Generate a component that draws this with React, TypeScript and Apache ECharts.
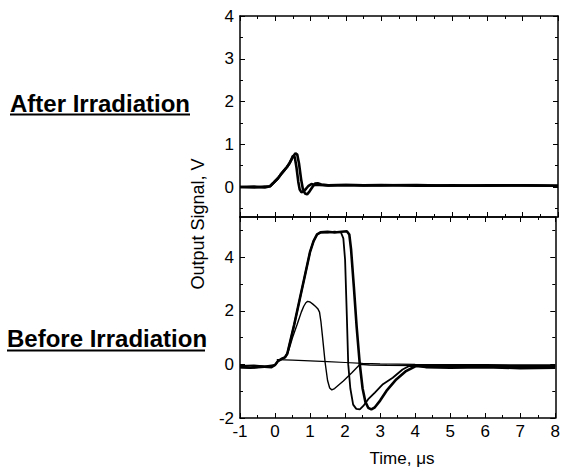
import React, { useEffect, useRef } from "react";
import * as echarts from "echarts";

// ---------- data ----------
const xTickLabels = [-1, 0, 1, 2, 3, 4, 5, 6, 7, 8];
const topMajor = [0, 1, 2, 3, 4];
const topMinor = [-0.5, 0.5, 1.5, 2.5, 3.5];
const botMajor = [-2, 0, 2, 4];
const botMinor = [-1, 1, 3, 5];

// After irradiation traces (top panel)
const after1T = [-1, -0.6, -0.3, -0.15, -0.05, 0.07, 0.15, 0.25, 0.33, 0.4, 0.46, 0.5, 0.55, 0.6, 0.65, 0.69, 0.74, 0.8, 0.87, 0.94, 1.02, 1.12, 1.25, 1.5, 2, 2.5, 3, 4, 5, 6, 7, 8];
const after1V = [0, -0.01, 0.01, 0.02, 0.1, 0.2, 0.29, 0.39, 0.47, 0.55, 0.65, 0.73, 0.7, 0.45, 0.12, -0.06, -0.12, -0.1, -0.04, 0.03, 0.07, 0.05, 0.05, 0.04, 0.05, 0.04, 0.05, 0.03, 0.04, 0.03, 0.04, 0.03];
const after2T = [-1, -0.6, -0.3, -0.15, -0.05, 0.07, 0.15, 0.25, 0.33, 0.4, 0.49, 0.57, 0.62, 0.67, 0.73, 0.78, 0.84, 0.9, 0.97, 1.05, 1.12, 1.2, 1.3, 1.5, 2, 2.5, 3, 4, 5, 6, 7, 8];
const after2V = [0, 0.01, -0.01, 0.02, 0.1, 0.2, 0.29, 0.39, 0.47, 0.56, 0.7, 0.79, 0.76, 0.55, 0.18, -0.05, -0.15, -0.17, -0.1, 0.0, 0.08, 0.09, 0.06, 0.04, 0.05, 0.04, 0.04, 0.05, 0.03, 0.04, 0.04, 0.03];

// Before irradiation traces (bottom panel)
const beforeAT = [-1, -0.7, -0.4, -0.1, 0, 0.08, 0.18, 0.28, 0.35, 0.45, 0.55, 0.7, 0.85, 1.0, 1.1, 1.2, 1.3, 1.5, 1.7, 1.9, 2.05, 2.12, 2.17, 2.25, 2.33, 2.42, 2.5, 2.58, 2.66, 2.75, 2.85, 3.0, 3.18, 3.46, 3.74, 4.02, 4.3, 5, 6, 7, 8];
const beforeAV = [-0.1, -0.12, -0.08, -0.1, -0.02, 0.12, 0.2, 0.26, 0.4, 0.95, 1.5, 2.4, 3.3, 4.2, 4.6, 4.85, 4.93, 4.95, 4.92, 4.95, 4.97, 4.85, 4.3, 2.9, 1.4, 0.0, -0.9, -1.4, -1.62, -1.68, -1.6, -1.35, -0.99, -0.56, -0.25, -0.06, -0.1, -0.12, -0.1, -0.14, -0.12];
const beforeBT = [-1, -0.6, -0.3, 0, 0.08, 0.18, 0.28, 0.35, 0.45, 0.55, 0.7, 0.85, 1.0, 1.1, 1.2, 1.3, 1.5, 1.7, 1.88, 1.95, 2.0, 2.05, 2.09, 2.15, 2.23, 2.32, 2.42, 2.52, 2.66, 2.85, 3.08, 3.36, 3.64, 3.83, 4.1, 5, 6, 7, 8];
const beforeBV = [-0.06, -0.04, -0.07, -0.02, 0.12, 0.2, 0.26, 0.4, 0.95, 1.5, 2.4, 3.3, 4.2, 4.6, 4.85, 4.93, 4.92, 4.95, 4.93, 4.7, 3.9, 1.8, 0.0, -0.9, -1.5, -1.66, -1.68, -1.55, -1.3, -1.05, -0.74, -0.5, -0.19, -0.06, -0.05, -0.08, -0.06, -0.08, -0.07];
const beforeCT = [-1, -0.6, -0.3, 0, 0.1, 0.2, 0.3, 0.4, 0.5, 0.63, 0.75, 0.82, 0.88, 0.93, 1.0, 1.08, 1.15, 1.22, 1.27, 1.31, 1.35, 1.43, 1.5, 1.56, 1.62, 1.7, 1.95, 2.2, 2.42, 2.7, 3.2, 4, 5, 6, 7, 8];
const beforeCV = [-0.12, -0.14, -0.11, -0.04, 0.15, 0.2, 0.28, 0.56, 1.0, 1.49, 1.95, 2.17, 2.3, 2.35, 2.33, 2.25, 2.17, 2.08, 1.95, 1.6, 1.1, 0.07, -0.6, -0.88, -0.95, -0.9, -0.62, -0.3, 0.0, -0.02, -0.03, -0.04, -0.05, -0.04, -0.05, -0.05];
const beforeDT = [0.05, 0.5, 1, 1.5, 2, 2.5, 3, 3.5, 4, 5, 6, 7, 8];
const beforeDV = [0.18, 0.16, 0.13, 0.1, 0.07, 0.04, 0.02, 0.01, 0.0, -0.01, -0.01, -0.02, -0.02];

const zip = (t: number[], v: number[]) => t.map((x, i) => [x, v[i]]);

const FONT = '"Liberation Sans", Arial, Helvetica, sans-serif';
const INK = "#000";

export default function App() {
  const ref = useRef<HTMLDivElement>(null);
  useEffect(() => {
    document.body.style.margin = "0";
    const chart = echarts.init(ref.current!, null, { renderer: "svg" });

    const gridLeft = 240;
    const gridRight = 5;

    const xBase = (gridIndex: number, position: "top" | "bottom", labels: boolean) => ({
      type: "value",
      gridIndex,
      position,
      min: -1,
      max: 8,
      interval: 1,
      axisLine: { show: true, onZero: false, lineStyle: { color: INK, width: 1.5 } },
      axisTick: { show: true, inside: true, length: 5, lineStyle: { color: INK, width: 1 } },
      minorTick: { show: true, splitNumber: 2, length: 3, lineStyle: { color: INK, width: 1 } },
      splitLine: { show: false },
      axisLabel: {
        show: labels,
        color: INK,
        fontSize: 17,
        fontFamily: FONT,
        margin: 5,
        formatter: (v: number) => (xTickLabels.includes(v) ? String(v) : ""),
      },
    });

    const yMajor = (gridIndex: number, position: "left" | "right", min: number, max: number, major: number[], labels: boolean) => ({
      type: "value",
      gridIndex,
      position,
      min,
      max,
      axisLine: { show: true, onZero: false, lineStyle: { color: INK, width: 1.5 } },
      axisTick: { show: true, inside: true, length: 5, customValues: major, lineStyle: { color: INK, width: 1 } },
      splitLine: { show: false },
      axisLabel: {
        show: labels,
        customValues: major,
        color: INK,
        fontSize: 17,
        fontFamily: FONT,
        margin: 6,
      },
    });
    const yMinor = (gridIndex: number, position: "left" | "right", min: number, max: number, minor: number[]) => ({
      type: "value",
      gridIndex,
      position,
      min,
      max,
      axisLine: { show: false, onZero: false },
      axisTick: { show: true, inside: true, length: 3, customValues: minor, lineStyle: { color: INK, width: 1 } },
      splitLine: { show: false },
      axisLabel: { show: false },
    });

    const line = (data: number[][], xi: number, yi: number, width: number) => ({
      type: "line",
      xAxisIndex: xi,
      yAxisIndex: yi,
      data,
      showSymbol: false,
      symbol: "none",
      silent: true,
      lineStyle: { color: INK, width },
    });

    const topMin = -0.7, topMax = 4;
    const botMin = -2, botMax = 5.5;

    chart.setOption({
      animation: false,
      backgroundColor: "#fff",
      grid: [
        { left: gridLeft, right: gridRight, top: 16, height: 201 },
        { left: gridLeft, right: gridRight, top: 217, height: 201 },
      ],
      xAxis: [
        xBase(0, "bottom", false),
        xBase(0, "top", false),
        xBase(1, "bottom", true),
        xBase(1, "top", false),
      ],
      yAxis: [
        yMajor(0, "left", topMin, topMax, topMajor, true),
        yMinor(0, "left", topMin, topMax, topMinor),
        yMajor(0, "right", topMin, topMax, topMajor, false),
        yMinor(0, "right", topMin, topMax, topMinor),
        yMajor(1, "left", botMin, botMax, botMajor, true),
        yMinor(1, "left", botMin, botMax, botMinor),
        yMajor(1, "right", botMin, botMax, botMajor, false),
        yMinor(1, "right", botMin, botMax, botMinor),
      ],
      series: [
        line(zip(after1T, after1V), 0, 0, 2.6),
        line(zip(after2T, after2V), 0, 0, 2.6),
        line(zip(beforeDT, beforeDV), 2, 4, 1.2),
        line(zip(beforeCT, beforeCV), 2, 4, 1.4),
        line(zip(beforeBT, beforeBV), 2, 4, 1.8),
        line(zip(beforeAT, beforeAV), 2, 4, 2.6),
      ],
      graphic: [
        {
          type: "text",
          x: 10,
          y: 103,
          style: { text: "After Irradiation", font: `bold 24px ${FONT}`, fill: INK, textAlign: "left", verticalAlign: "middle", textVerticalAlign: "middle" },
        },
        { type: "line", shape: { x1: 10, y1: 114.5, x2: 190, y2: 114.5 }, style: { stroke: INK, lineWidth: 2 } },
        {
          type: "text",
          x: 7,
          y: 338.5,
          style: { text: "Before Irradiation", font: `bold 24px ${FONT}`, fill: INK, textAlign: "left", verticalAlign: "middle", textVerticalAlign: "middle" },
        },
        { type: "line", shape: { x1: 7, y1: 350.5, x2: 205, y2: 350.5 }, style: { stroke: INK, lineWidth: 2 } },
        {
          type: "text",
          x: 198,
          y: 224,
          rotation: Math.PI / 2,
          style: { text: "Output Signal, V", font: `18px ${FONT}`, fill: INK, textAlign: "center", verticalAlign: "middle", textVerticalAlign: "middle" },
        },
        {
          type: "text",
          x: 402,
          y: 458,
          style: { text: "Time, μs", font: `17px ${FONT}`, fill: INK, textAlign: "center", verticalAlign: "middle", textVerticalAlign: "middle" },
        },
      ],
    });
    return () => chart.dispose();
  }, []);
  return <div ref={ref} style={{ position: "absolute", left: 0, top: 0, width: 563, height: 472 }} />;
}
